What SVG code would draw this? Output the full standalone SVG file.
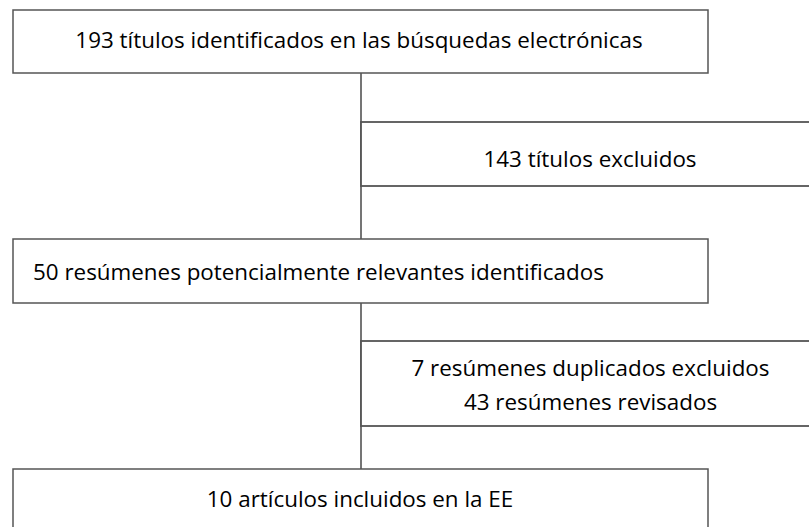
<svg xmlns="http://www.w3.org/2000/svg" width="809" height="527" viewBox="0 0 809 527">
<style>
.box{fill:#fff;stroke:#555;stroke-width:1.5}
.side{fill:#fff;stroke:#555;stroke-width:1.8}
.t{font-family:"Open Sans","Noto Sans","Liberation Sans",sans-serif;font-size:22.4px;fill:#000}
.c{text-anchor:middle}
.conn{stroke:#666;stroke-width:1.8;fill:none}
</style>
<g id="connectors">
<line class="conn" x1="361" y1="73" x2="361" y2="469"/>
</g>
<g id="n1">
<rect class="box" x="13" y="10" width="695" height="63"/>
<text class="t c" x="359" y="48">193 títulos identificados en las búsquedas electrónicas</text>
</g>
<g id="n2">
<rect class="side" x="361" y="122" width="460" height="64"/>
<text class="t c" x="590" y="167">143 títulos excluidos</text>
</g>
<g id="n3">
<rect class="box" x="13" y="239" width="695" height="64"/>
<text class="t" x="33" y="280">50 resúmenes potencialmente relevantes identificados</text>
</g>
<g id="n4">
<rect class="side" x="361" y="341" width="460" height="85"/>
<text class="t c" x="590.5" y="376">7 resúmenes duplicados excluidos</text>
<text class="t c" x="590.5" y="410">43 resúmenes revisados</text>
</g>
<g id="n5">
<rect class="box" x="13" y="469" width="695" height="70"/>
<text class="t c" x="360" y="507">10 artículos incluidos en la EE</text>
</g>
</svg>
